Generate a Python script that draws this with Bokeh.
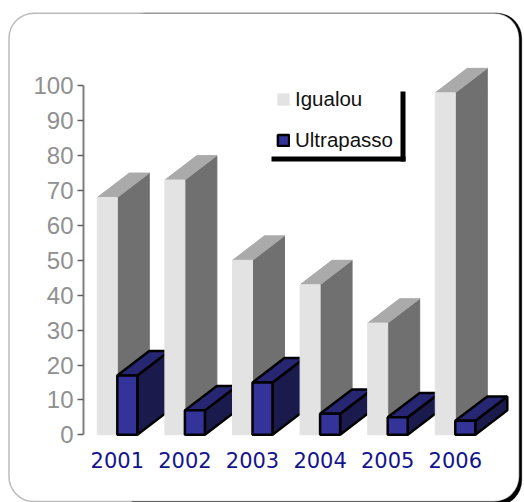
from bokeh.plotting import figure
from bokeh.models import BoxAnnotation, Legend, LegendItem, FixedTicker, Range1d
from bokeh.embed import file_html
from bokeh.resources import INLINE

years = [2001, 2002, 2003, 2004, 2005, 2006]
igualou = [68, 73, 50, 43, 32, 98]
ultrapasso = [17, 7, 15, 6, 5, 4]
y_ticks = [0, 10, 20, 30, 40, 50, 60, 70, 80, 90, 100]

W, H = 524, 502
PX_X = 67.6
PX_Y = 3.49
BAR_W = 0.296
DX = 0.473
DY = 7.0
X0 = 2000.5 - 83 / PX_X
Y0 = -(H - 434.3) / PX_Y

p = figure(width=W, height=H, output_backend="svg", toolbar_location=None,
           x_range=Range1d(X0, X0 + W / PX_X), y_range=Range1d(Y0, Y0 + H / PX_Y),
           min_border=0, background_fill_color="white", border_fill_color="white", outline_line_color=None)
p.grid.visible = False


def canvas_box(left, top, right, bottom, **kw):
    p.add_layout(BoxAnnotation(left=left, top=top, right=right, bottom=bottom,
                               left_units="canvas", right_units="canvas", top_units="canvas", bottom_units="canvas",
                               fill_alpha=1, **kw))


canvas_box(120, 12.7, 521.3, 505, fill_color="black", line_color="black", line_width=1, border_radius=25, level="underlay")
canvas_box(8.5, 12.7, 518.7, 501, fill_color="white", line_color="#222222", line_width=1.5, border_radius=25, level="underlay")


def box(x0, x1, v, front, side, topc, line, lw):
    p.patch([x1, x1 + DX, x1 + DX, x1], [0, DY, v + DY, v], fill_color=side, line_color=line or side, line_width=lw or 1)
    p.patch([x0, x0 + DX, x1 + DX, x1], [v, v + DY, v + DY, v], fill_color=topc, line_color=line or topc, line_width=lw or 1)
    return p.quad(left=[x0], right=[x1], bottom=[0], top=[v], fill_color=front, line_color=line or front, line_width=lw or 1)


first_g = first_b = None
for yr, g, b in zip(years, igualou, ultrapasso):
    rg = box(yr - BAR_W, yr, g, "#e3e3e3", "#707070", "#aaaaaa", None, 0)
    rb = box(yr, yr + BAR_W, b, "#333399", "#1a1a4d", "#262673", "black", 2.5)
    first_g = first_g or rg
    first_b = first_b or rb

xa = p.xaxis[0]
xa.fixed_location = 0
xa.ticker = FixedTicker(ticks=years)
xa.major_label_overrides = {y: str(y) for y in years}
xa.axis_line_color = None
xa.major_tick_line_color = None
xa.minor_tick_line_color = None
xa.major_label_text_font = "DejaVu Sans"
xa.major_label_text_font_size = "21px"
xa.major_label_text_color = "#14148c"
xa.major_label_standoff = 11

ya = p.yaxis[0]
ya.fixed_location = 2000.5
ya.ticker = FixedTicker(ticks=y_ticks)
ya.bounds = (0, 100)
ya.axis_line_color = "#808080"
ya.axis_line_width = 2
ya.major_tick_line_color = "#606060"
ya.major_tick_line_width = 1.5
ya.major_tick_in = 0
ya.major_tick_out = 6
ya.minor_tick_line_color = None
ya.major_label_text_font = "Liberation Sans"
ya.major_label_text_font_size = "24px"
ya.major_label_text_color = "#909090"
ya.major_label_standoff = 4

canvas_box(400, 91, 405, 161, fill_color="black", line_color=None, level="annotation")
canvas_box(271, 156, 405, 161, fill_color="black", line_color=None, level="annotation")

legend = Legend(items=[LegendItem(label="Igualou", renderers=[first_g]),
                       LegendItem(label="Ultrapasso", renderers=[first_b])],
                location=(276, 350), orientation="vertical",
                background_fill_alpha=0, border_line_color=None,
                glyph_width=14, glyph_height=14, label_standoff=5, spacing=17,
                padding=0, margin=0, label_text_font="Liberation Sans",
                label_text_font_size="20.5px", label_text_color="#111111", label_height=21)
p.add_layout(legend)

open("out.html", "w").write(file_html(p, INLINE))
